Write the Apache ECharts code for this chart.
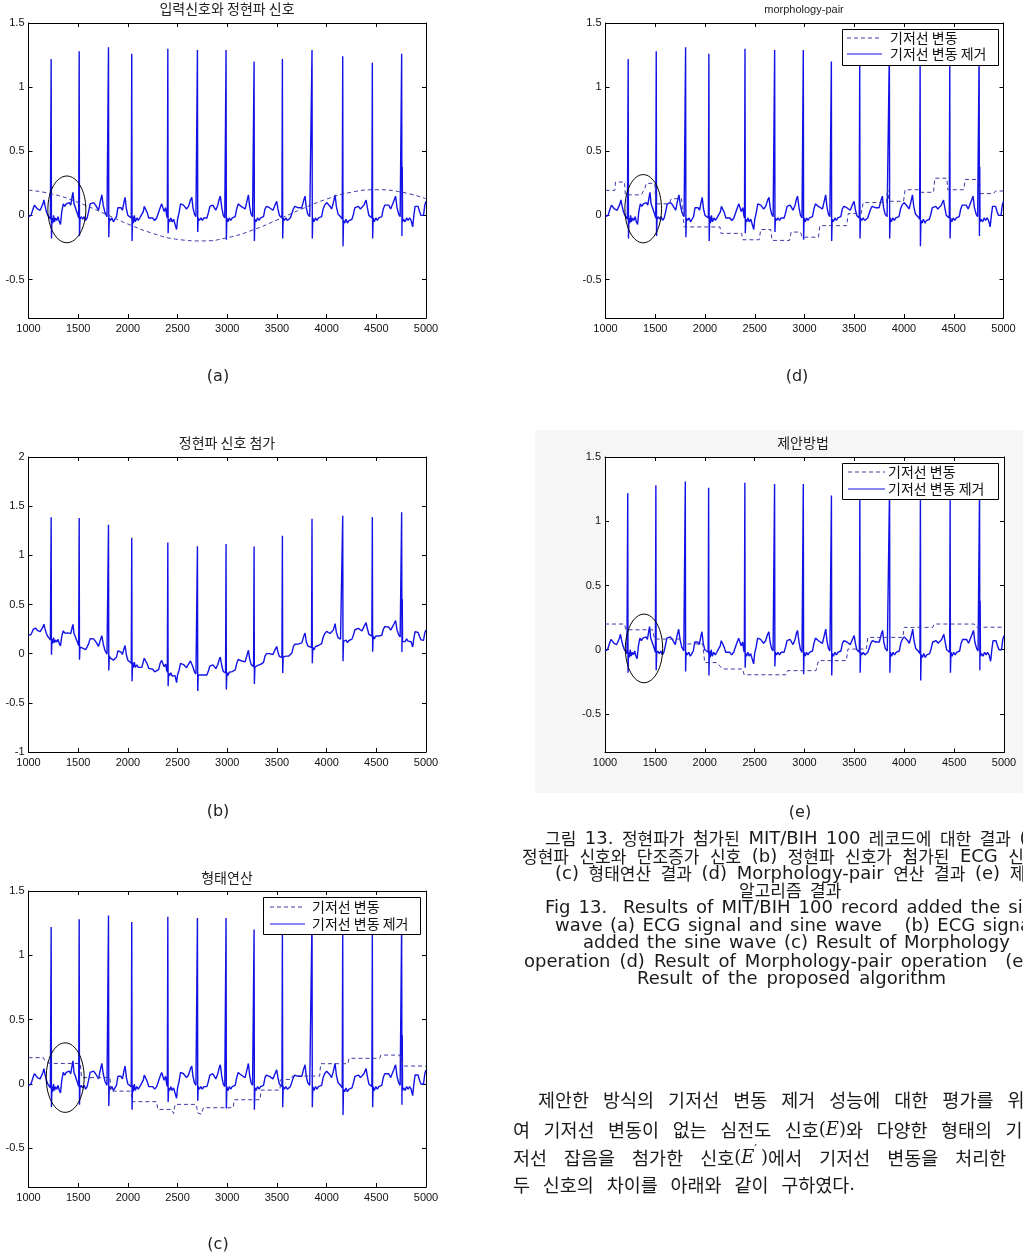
<!DOCTYPE html>
<html><head><meta charset="utf-8">
<script src="https://cdn.jsdelivr.net/npm/echarts@6/dist/echarts.min.js"></script>
<style>html,body{margin:0;padding:0;background:#fff}#c{width:1023px;height:1257px}</style>
</head><body><div id="c"></div>
<script>
// ECG after baseline removal (panels a, c, d, e)
const ecgClean = [
[1000,-0.01],[1012,-0.02],[1025,0.0],[1040,-0.01],[1050,0.06],[1060,0.08],[1075,0.07],[1090,0.05],[1105,0.06],[1117,0.04],[1130,0.03],[1145,0.09],[1155,0.12],[1165,0.08],[1180,0.03],[1195,0.0],[1210,-0.01],[1220,-0.03],
[1225,-0.02],[1228,1.22],[1231,-0.18],[1236,-0.02],[1245,-0.06],[1252,0.0],[1262,-0.05],[1272,-0.02],[1285,-0.04],[1298,-0.01],[1310,-0.05],[1322,-0.07],[1335,0.03],[1350,0.09],[1365,0.07],[1380,0.09],[1395,0.08],[1410,0.1],[1425,0.08],[1440,0.15],[1447,0.18],[1458,0.09],[1472,0.06],[1485,0.03],[1498,0.0],[1505,-0.02],
[1510,1.28],[1513,-0.16],[1518,-0.03],[1530,-0.01],[1545,-0.03],[1560,-0.01],[1575,-0.04],[1590,-0.02],[1605,0.03],[1620,0.09],[1640,0.1],[1655,0.1],[1675,0.08],[1690,0.07],[1705,0.04],[1720,0.1],[1738,0.16],[1752,0.08],[1770,0.02],[1790,-0.01],[1800,-0.02],
[1805,1.31],[1808,-0.17],[1813,-0.02],[1825,-0.04],[1840,-0.02],[1855,-0.05],[1870,-0.03],[1885,-0.01],[1900,0.06],[1915,0.07],[1930,0.06],[1945,0.04],[1960,0.1],[1972,0.14],[1985,0.05],[2000,0.0],[2020,-0.01],[2034,-0.02],
[2039,1.26],[2042,-0.2],[2047,-0.01],[2055,-0.06],[2065,0.0],[2075,-0.05],[2090,-0.02],[2105,-0.04],[2120,-0.02],[2140,-0.03],[2155,0.03],[2165,0.07],[2180,0.06],[2195,0.02],[2210,-0.02],[2230,-0.03],[2250,-0.02],[2270,-0.04],[2290,-0.02],[2310,-0.01],[2325,0.06],[2340,0.09],[2352,0.08],[2365,0.03],[2380,0.06],[2390,0.0],[2397,-0.02],
[2402,1.3],[2405,-0.14],[2410,-0.03],[2420,-0.05],[2432,-0.02],[2445,-0.05],[2460,-0.03],[2475,-0.04],[2490,-0.11],[2500,-0.03],[2515,0.02],[2530,0.09],[2545,0.09],[2560,0.08],[2575,0.07],[2590,0.05],[2610,0.07],[2630,0.12],[2643,0.14],[2655,0.06],[2670,0.01],[2685,-0.01],[2695,-0.02],
[2700,1.29],[2703,-0.13],[2708,-0.02],[2720,-0.04],[2735,-0.02],[2750,-0.04],[2765,-0.02],[2780,-0.03],[2795,-0.02],[2810,0.02],[2825,0.07],[2840,0.08],[2855,0.08],[2870,0.06],[2885,0.04],[2905,0.08],[2920,0.13],[2930,0.15],[2945,0.06],[2960,0.0],[2975,-0.02],[2983,-0.02],
[2988,1.29],[2991,-0.19],[2996,-0.02],[3008,-0.05],[3020,-0.02],[3035,-0.04],[3050,-0.02],[3065,-0.03],[3080,-0.01],[3095,0.05],[3110,0.09],[3125,0.09],[3140,0.07],[3160,0.06],[3180,0.05],[3195,0.1],[3213,0.16],[3225,0.07],[3240,0.01],[3255,-0.01],[3265,-0.02],
[3270,1.2],[3273,-0.2],[3278,-0.03],[3290,-0.05],[3305,-0.02],[3320,-0.04],[3335,-0.02],[3350,-0.03],[3365,-0.01],[3380,0.05],[3395,0.07],[3410,0.08],[3425,0.06],[3445,0.05],[3460,0.04],[3480,0.08],[3498,0.11],[3510,0.05],[3525,0.0],[3540,-0.01],[3550,-0.02],
[3555,1.22],[3558,-0.18],[3563,-0.02],[3575,-0.04],[3590,-0.02],[3605,-0.04],[3620,-0.03],[3635,-0.02],[3650,-0.01],[3665,0.05],[3680,0.07],[3695,0.08],[3712,0.06],[3730,0.05],[3750,0.06],[3770,0.12],[3783,0.15],[3795,0.06],[3810,0.01],[3830,-0.01],[3848,-0.02],
[3853,1.29],[3856,-0.18],[3861,-0.02],[3873,-0.05],[3888,-0.02],[3903,-0.04],[3918,-0.02],[3935,-0.03],[3950,-0.01],[3965,0.05],[3980,0.08],[4000,0.1],[4018,0.1],[4035,0.07],[4050,0.05],[4068,0.1],[4085,0.16],[4098,0.07],[4115,0.01],[4140,-0.01],[4157,-0.03],
[4162,1.24],[4165,-0.24],[4170,-0.04],[4182,-0.06],[4195,-0.03],[4210,-0.06],[4225,-0.04],[4240,-0.05],[4255,-0.03],[4270,0.01],[4285,0.06],[4300,0.07],[4320,0.07],[4340,0.05],[4355,0.04],[4375,0.08],[4397,0.12],[4410,0.06],[4425,0.0],[4445,-0.01],[4455,-0.02],
[4460,1.19],[4463,-0.18],[4468,-0.02],[4480,-0.05],[4495,-0.02],[4510,-0.04],[4525,-0.02],[4540,-0.03],[4555,-0.01],[4570,0.05],[4585,0.08],[4605,0.09],[4625,0.08],[4645,0.05],[4660,0.06],[4680,0.12],[4694,0.15],[4708,0.06],[4725,0.01],[4740,-0.01],[4750,-0.02],
[4755,1.26],[4758,-0.16],[4761,0.38],[4764,-0.05],[4775,-0.03],[4790,-0.05],[4805,-0.02],[4820,-0.04],[4835,-0.02],[4850,-0.04],[4866,-0.09],[4878,0.0],[4890,0.07],[4905,0.08],[4920,0.07],[4935,0.03],[4950,0.0],[4962,-0.01],[4975,0.0],[4988,0.08],[5000,0.11]
];
// ECG with the sine wave added (panel b)
const ecgWithSine = [
[1000,0.187],[1012,0.176],[1025,0.194],[1040,0.182],[1050,0.251],[1060,0.27],[1075,0.258],[1090,0.237],[1105,0.245],[1117,0.224],[1130,0.212],[1145,0.27],[1155,0.299],[1165,0.257],[1180,0.205],[1195,0.173],[1210,0.161],[1220,0.14],
[1225,0.149],[1228,1.388],[1231,-0.012],[1236,0.147],[1245,0.104],[1252,0.163],[1262,0.112],[1272,0.14],[1285,0.118],[1298,0.145],[1310,0.102],[1322,0.079],[1335,0.176],[1350,0.233],[1365,0.209],[1380,0.225],[1395,0.211],[1410,0.227],[1425,0.204],[1440,0.27],[1447,0.298],[1458,0.205],[1472,0.17],[1485,0.136],[1498,0.102],[1505,0.08],
[1510,1.38],[1513,-0.061],[1518,0.067],[1530,0.08],[1545,0.057],[1560,0.07],[1575,0.04],[1590,0.055],[1605,0.1],[1620,0.153],[1640,0.158],[1655,0.15],[1675,0.125],[1690,0.11],[1705,0.075],[1720,0.13],[1738,0.183],[1752,0.1],[1770,0.03],[1790,-0.004],[1800,-0.018],
[1805,1.31],[1808,-0.17],[1813,-0.024],[1825,-0.046],[1840,-0.031],[1855,-0.066],[1870,-0.052],[1885,-0.037],[1900,0.028],[1915,0.033],[1930,0.017],[1945,-0.008],[1960,0.047],[1972,0.083],[1985,-0.012],[2000,-0.067],[2020,-0.083],[2034,-0.097],
[2039,1.18],[2042,-0.28],[2047,-0.09],[2055,-0.143],[2065,-0.087],[2075,-0.14],[2090,-0.114],[2105,-0.139],[2120,-0.123],[2140,-0.139],[2155,-0.084],[2165,-0.047],[2180,-0.061],[2195,-0.105],[2210,-0.15],[2230,-0.164],[2250,-0.159],[2270,-0.184],[2290,-0.169],[2310,-0.163],[2325,-0.096],[2340,-0.069],[2352,-0.081],[2365,-0.133],[2380,-0.106],[2390,-0.168],[2397,-0.19],
[2402,1.13],[2405,-0.33],[2410,-0.2],[2420,-0.223],[2432,-0.195],[2445,-0.228],[2460,-0.21],[2475,-0.223],[2490,-0.295],[2500,-0.217],[2515,-0.168],[2530,-0.099],[2545,-0.1],[2560,-0.111],[2575,-0.122],[2590,-0.143],[2610,-0.123],[2630,-0.074],[2643,-0.055],[2655,-0.135],[2670,-0.186],[2685,-0.207],[2695,-0.217],
[2700,1.093],[2703,-0.38],[2708,-0.217],[2720,-0.237],[2735,-0.217],[2750,-0.237],[2765,-0.217],[2780,-0.227],[2795,-0.217],[2810,-0.177],[2825,-0.126],[2840,-0.115],[2855,-0.114],[2870,-0.133],[2885,-0.152],[2905,-0.11],[2920,-0.057],[2930,-0.035],[2945,-0.123],[2960,-0.181],[2975,-0.198],[2983,-0.196],
[2988,1.114],[2991,-0.365],[2996,-0.193],[3008,-0.222],[3020,-0.189],[3035,-0.206],[3050,-0.183],[3065,-0.189],[3080,-0.166],[3095,-0.102],[3110,-0.059],[3125,-0.055],[3140,-0.072],[3160,-0.077],[3180,-0.083],[3195,-0.029],[3213,0.035],[3225,-0.052],[3240,-0.109],[3255,-0.125],[3265,-0.132],
[3270,1.09],[3273,-0.309],[3278,-0.138],[3290,-0.154],[3305,-0.119],[3320,-0.134],[3335,-0.109],[3350,-0.114],[3365,-0.089],[3380,-0.024],[3395,0.0],[3410,0.015],[3425,0.0],[3445,-0.004],[3460,-0.009],[3480,0.038],[3498,0.073],[3510,0.017],[3525,-0.028],[3540,-0.033],[3550,-0.04],
[3555,1.2],[3558,-0.197],[3563,-0.035],[3575,-0.051],[3590,-0.025],[3605,-0.039],[3620,-0.024],[3635,-0.009],[3650,0.006],[3665,0.071],[3680,0.096],[3695,0.111],[3712,0.097],[3730,0.093],[3750,0.11],[3770,0.176],[3783,0.21],[3795,0.124],[3810,0.079],[3830,0.065],[3848,0.061],
[3853,1.372],[3856,-0.097],[3861,0.065],[3873,0.039],[3888,0.073],[3903,0.058],[3918,0.083],[3935,0.078],[3950,0.102],[3965,0.167],[3980,0.201],[4000,0.227],[4018,0.231],[4035,0.205],[4050,0.188],[4068,0.242],[4085,0.306],[4098,0.219],[4115,0.162],[4140,0.148],[4157,0.131],
[4162,1.402],[4165,-0.077],[4170,0.124],[4182,0.106],[4195,0.139],[4210,0.112],[4225,0.134],[4240,0.126],[4255,0.148],[4270,0.19],[4285,0.243],[4300,0.255],[4320,0.257],[4340,0.239],[4355,0.23],[4375,0.272],[4397,0.315],[4410,0.256],[4425,0.197],[4445,0.188],[4455,0.179],
[4460,1.389],[4463,0.019],[4468,0.179],[4480,0.15],[4495,0.18],[4510,0.16],[4525,0.179],[4540,0.168],[4555,0.187],[4570,0.246],[4585,0.275],[4605,0.283],[4625,0.271],[4645,0.24],[4660,0.249],[4680,0.307],[4694,0.336],[4708,0.244],[4725,0.192],[4740,0.17],[4750,0.158],
[4755,1.437],[4758,0.016],[4761,0.556],[4764,0.125],[4775,0.144],[4790,0.122],[4805,0.15],[4820,0.127],[4835,0.144],[4850,0.121],[4866,0.068],[4878,0.156],[4890,0.223],[4905,0.23],[4920,0.217],[4935,0.174],[4950,0.14],[4962,0.128],[4975,0.135],[4988,0.213],[5000,0.24]
];
// Added sine wave (dashed, panel a)
const sineWave = [[1000,0.197],[1250,0.165],[1500,0.101],[1750,0.019],[2000,-0.067],[2250,-0.14],[2500,-0.187],[2750,-0.199],[3000,-0.174],[3250,-0.116],[3500,-0.036],[3750,0.05],[4000,0.127],[4250,0.181],[4500,0.2],[4750,0.182],[5000,0.13]];
// Estimated baseline wander (dashed) in panels c, d, e
const baseMorph = [[1000,0.205],[1150,0.205],[1165,0.18],[1215,0.16],[1520,0.16],[1535,0.05],[1820,0.05],[1830,-0.055],[2030,-0.055],[2045,-0.137],[2290,-0.137],[2300,-0.197],[2440,-0.197],[2460,-0.23],[2475,-0.158],[2690,-0.158],[2700,-0.223],[2740,-0.235],[2760,-0.184],[3060,-0.184],[3070,-0.122],[3330,-0.122],[3340,-0.047],[3530,-0.047],[3540,0.036],[3645,0.036],[3655,0.062],[3930,0.062],[3940,0.158],[4215,0.158],[4225,0.2],[4535,0.2],[4545,0.225],[4735,0.225],[4750,0.19],[4770,0.14],[5000,0.14]];
const basePair = [[1000,0.195],[1094,0.195],[1100,0.26],[1190,0.26],[1200,0.16],[1360,0.16],[1396,0.21],[1410,0.25],[1496,0.25],[1505,0.09],[1640,0.09],[1660,0.13],[1764,0.13],[1790,-0.09],[2150,-0.09],[2160,-0.14],[2368,-0.14],[2380,-0.19],[2545,-0.19],[2560,-0.11],[2660,-0.11],[2675,-0.195],[2850,-0.195],[2865,-0.13],[2960,-0.13],[2975,-0.17],[3140,-0.17],[3155,-0.08],[3424,-0.08],[3440,0.015],[3570,0.015],[3590,0.1],[3825,0.1],[3835,0.21],[3850,0.11],[3995,0.11],[4011,0.2],[4145,0.2],[4160,0.18],[4296,0.18],[4310,0.29],[4430,0.29],[4440,0.2],[4600,0.2],[4615,0.28],[4749,0.28],[4760,0.17],[4900,0.17],[4920,0.19],[5000,0.19]];
const baseProposed = [[1000,0.2],[1195,0.2],[1210,0.155],[1480,0.155],[1495,0.083],[1780,0.083],[1800,0.045],[1980,0.045],[2000,-0.1],[2120,-0.1],[2180,-0.15],[2380,-0.15],[2395,-0.195],[2815,-0.195],[2830,-0.163],[3115,-0.163],[3140,-0.085],[3420,-0.085],[3435,0.005],[3620,0.005],[3635,0.096],[3985,0.096],[4000,0.174],[4285,0.174],[4300,0.2],[4700,0.2],[4720,0.175],[5000,0.175]];

const yTickLabels = [-0.5, 0, 0.5, 1, 1.5];
const panelTitles = ['입력신호와 정현파 신호', '정현파 신호 첨가', '형태연산', 'morphology-pair', '제안방법'];
const panelLetters = ['(a)', '(b)', '(c)', '(d)', '(e)'];
const legendNames = ['기저선 변동', '기저선 변동 제거'];
// highlighted region ellipses: [panel, centerX, centerY, radiusX, radiusY] in data units
const circleMarks = [[0,1386,0.047,191,0.26],[2,1369,0.05,191,0.27],[3,1379,0.052,184,0.266],[4,1391,0.01,187,0.267]];
const captionLines = [
 '그림 13. 정현파가 첨가된 MIT/BIH 100 레코드에 대한 결과 (a)',
 '정현파 신호와 단조증가 신호 (b) 정현파 신호가 첨가된 ECG 신호',
 '(c) 형태연산 결과 (d) Morphology-pair 연산 결과 (e) 제안된',
 '알고리즘 결과',
 'Fig 13.  Results of MIT/BIH 100 record added the sine',
 'wave (a) ECG signal and sine wave   (b) ECG signal',
 'added the sine wave (c) Result of Morphology',
 'operation (d) Result of Morphology-pair operation  (e)',
 'Result of the proposed algorithm'
];
const paragraphLines = [
 '제안한 방식의 기저선 변동 제거 성능에 대한 평가를 위하',
 '여 기저선 변동이 없는 심전도 신호(E)와 다양한 형태의 기',
 '저선 잡음을 첨가한 신호(E′)에서 기저선 변동을 처리한 후',
 '두 신호의 차이를 아래와 같이 구하였다.'
];

// ---- layout (pixels) ----
const grids = [
 {left: 28.5, top: 23, width: 397.5, height: 295},
 {left: 28.5, top: 457, width: 397.5, height: 295},
 {left: 28.5, top: 891, width: 397.5, height: 296},
 {left: 605.5, top: 23, width: 398, height: 295},
 {left: 605, top: 457, width: 399, height: 295.5}
];
const titlePos = [[227,9],[227,443],[227,878],[804,10],[803,443]];
const letterPos = [[218,377],[218,812],[218,1245],[797,377],[800,813]];
// [x, y, word gap]
const captionPos = [[545,839,8.5],[522,857,10.5],[555,874,9.6],[739,891,8.5],[545,908,8],[555,926,7.5],[583,943,7.7],[524,962,9],[637,979,9]];
const paragraphPos = [[538,1100,14],[513,1130,13.5],[513,1158,17],[513,1185,12.8]];
// legend boxes: [boxX, boxY, boxW, boxH, lineX0, lineX1, row1Y, row2Y, textX]
const legendBoxes = [[263,897,157,37,270,305,907,924,312],[842,29,156,36,847,882,38,54,890],[842,463,156,36,848,885,472,489,888]];

const chart = echarts.init(document.getElementById('c'), null, {renderer: 'canvas'});
const BLUE = '#1212e6';
const DASH = '#3a3aa8';
const xAxes = [], yAxes = [];
grids.forEach((g, i) => {
  const isB = i === 1;
  const ymin = isB ? -1 : -0.8, ymax = isB ? 2 : 1.5;
  const tick = {inside: true, length: 4, lineStyle: {color: '#000', width: 1}};
  xAxes.push({type: 'value', gridIndex: i, min: 1000, max: 5000, interval: 500, position: 'bottom',
    axisLine: {onZero: false, lineStyle: {color: '#000', width: 1}}, axisTick: tick,
    axisLabel: {color: '#111', fontSize: 11, fontFamily: 'Liberation Sans', margin: 5, formatter: v => String(v)}, splitLine: {show: false}});
  xAxes.push({type: 'value', gridIndex: i, min: 1000, max: 5000, interval: 500, position: 'top',
    axisLine: {onZero: false, lineStyle: {color: '#000', width: 1}}, axisTick: tick,
    axisLabel: {show: false}, splitLine: {show: false}});
  const yl = {type: 'value', gridIndex: i, min: ymin, max: ymax, position: 'left',
    axisLine: {show: true, onZero: false, lineStyle: {color: '#000', width: 1}},
    axisLabel: {color: '#111', fontSize: 11, fontFamily: 'Liberation Sans', margin: 4, formatter: v => String(v)}, splitLine: {show: false}};
  const yr = {type: 'value', gridIndex: i, min: ymin, max: ymax, position: 'right',
    axisLine: {show: true, onZero: false, lineStyle: {color: '#000', width: 1}},
    axisLabel: {show: false}, splitLine: {show: false}};
  if (isB) {
    yl.interval = 0.5; yr.interval = 0.5;
    yl.axisTick = tick; yr.axisTick = tick;
  } else {
    yl.axisTick = Object.assign({customValues: yTickLabels}, tick);
    yl.axisLabel.customValues = yTickLabels;
    yr.axisTick = Object.assign({customValues: yTickLabels}, tick);
  }
  yAxes.push(yl, yr);
});

function lineSeries(name, data, panel, dashed) {
  return {type: 'line', name: name, data: data, xAxisIndex: panel * 2, yAxisIndex: panel * 2,
    symbol: 'none', showSymbol: false, silent: true, animation: false,
    lineStyle: dashed ? {color: DASH, width: 1, type: [4, 3]} : {color: BLUE, width: 1.4},
    itemStyle: {color: dashed ? DASH : BLUE}, z: dashed ? 3 : 2};
}
const series = [
  lineSeries('입력', ecgClean, 0, false),
  lineSeries('정현파', sineWave, 0, true),
  lineSeries('첨가', ecgWithSine, 1, false),
  lineSeries(legendNames[1], ecgClean, 2, false),
  lineSeries(legendNames[0], baseMorph, 2, true),
  lineSeries(legendNames[1], ecgClean, 3, false),
  lineSeries(legendNames[0], basePair, 3, true),
  lineSeries(legendNames[1], ecgClean, 4, false),
  lineSeries(legendNames[0], baseProposed, 4, true)
];
series[1].smooth = true;

// ---- text layout helpers (word by word, measured with canvas) ----
const mctx = document.createElement('canvas').getContext('2d');
function measure(t, font) { mctx.font = font; return mctx.measureText(t).width; }
function txt(x, y, text, font, align, fill) {
  return {type: 'text', x: x, y: y, silent: true, z: 20,
    style: {text: text, font: font, fill: fill || '#111', align: align, verticalAlign: 'middle', textAlign: align, textVerticalAlign: 'middle'}};
}
// fonts: [hangul, other, italicE, prime]
function placeLine(out, x, y, str, fonts, gap, fill) {
  const words = str.split(' ');
  let cx = x;
  words.forEach((w, wi) => {
    if (wi > 0) cx += gap;
    if (w === '') return;
    let runs = [], cur = '', cls = null;
    for (const ch of w) {
      let c = /[\uAC00-\uD7A3]/.test(ch) ? 'h' : 'l';
      if (fonts[2] && ch === 'E') c = 'e';
      if (fonts[3] && ch === '′') c = 'p';
      if (c !== cls || c === 'e' || c === 'p') { if (cur) runs.push([cls, cur]); cur = ''; cls = c; }
      cur += ch;
    }
    if (cur) runs.push([cls, cur]);
    runs.forEach(r => {
      const f = r[0] === 'h' ? fonts[0] : r[0] === 'e' ? fonts[2] : r[0] === 'p' ? fonts[3] : fonts[1];
      const dy = r[0] === 'p' ? -7 : 0;
      out.push(txt(cx, y + dy, r[1], f, 'left', fill));
      cx += measure(r[1], f) + (r[0] === 'p' ? 4 : 0);
    });
  });
}

const baseGraphics = [];
baseGraphics.push({type: 'rect', z: -10, silent: true, shape: {x: 535, y: 430, width: 488, height: 363}, style: {fill: '#f6f6f6'}});
panelTitles.forEach((t, i) => {
  const f = i === 3 ? '11px "Liberation Sans"' : '14px "Noto Sans CJK KR"';
  baseGraphics.push(txt(titlePos[i][0], titlePos[i][1], t, f, 'center', '#222'));
});
panelLetters.forEach((t, i) => baseGraphics.push(txt(letterPos[i][0], letterPos[i][1], t, '16px "DejaVu Sans"', 'center', '#222')));
const capFonts = ['17px "Noto Sans CJK KR"', '18px "DejaVu Sans"'];
captionLines.forEach((t, i) => placeLine(baseGraphics, captionPos[i][0], captionPos[i][1], t, capFonts, captionPos[i][2], '#1a1a1a'));
const paraFonts = ['18.5px "Noto Sans CJK KR"', '18px "DejaVu Serif"', 'italic 18px "DejaVu Serif"', '12px "DejaVu Serif"'];
paragraphLines.forEach((t, i) => placeLine(baseGraphics, paragraphPos[i][0], paragraphPos[i][1], t, paraFonts, paragraphPos[i][2], '#1a1a1a'));
// legend boxes
legendBoxes.forEach(b => {
  baseGraphics.push({type: 'rect', silent: true, z: 18, shape: {x: b[0] + 0.5, y: b[1] + 0.5, width: b[2], height: b[3]}, style: {fill: '#fff', stroke: '#000', lineWidth: 1}});
  baseGraphics.push({type: 'line', silent: true, z: 19, shape: {x1: b[4], y1: b[6], x2: b[5], y2: b[6]}, style: {stroke: DASH, lineWidth: 1, lineDash: [4, 3]}});
  baseGraphics.push({type: 'line', silent: true, z: 19, shape: {x1: b[4], y1: b[7], x2: b[5], y2: b[7]}, style: {stroke: BLUE, lineWidth: 1.2}});
  baseGraphics.push(txt(b[8], b[6], legendNames[0], '14px "Noto Sans CJK KR"', 'left', '#111'));
  baseGraphics.push(txt(b[8], b[7], legendNames[1], '14px "Noto Sans CJK KR"', 'left', '#111'));
});

chart.setOption({
  animation: false,
  backgroundColor: '#ffffff',
  grid: grids.map(g => Object.assign({show: true, backgroundColor: '#fff', borderWidth: 0, containLabel: false}, g)),
  xAxis: xAxes,
  yAxis: yAxes,
  series: series,
  graphic: baseGraphics
});

// ellipses placed through the axes' own scales
const ellipses = circleMarks.map(c => {
  const p = c[0];
  const finder = {xAxisIndex: p * 2, yAxisIndex: p * 2};
  const ctr = chart.convertToPixel(finder, [c[1], c[2]]);
  const ex = chart.convertToPixel(finder, [c[1] + c[3], c[2] + c[4]]);
  return {type: 'ellipse', silent: true, z: 15,
    shape: {cx: ctr[0], cy: ctr[1], rx: Math.abs(ex[0] - ctr[0]), ry: Math.abs(ex[1] - ctr[1])},
    style: {fill: 'none', stroke: '#000', lineWidth: 1}};
});
chart.setOption({graphic: baseGraphics.concat(ellipses)});
</script>
</body></html>
